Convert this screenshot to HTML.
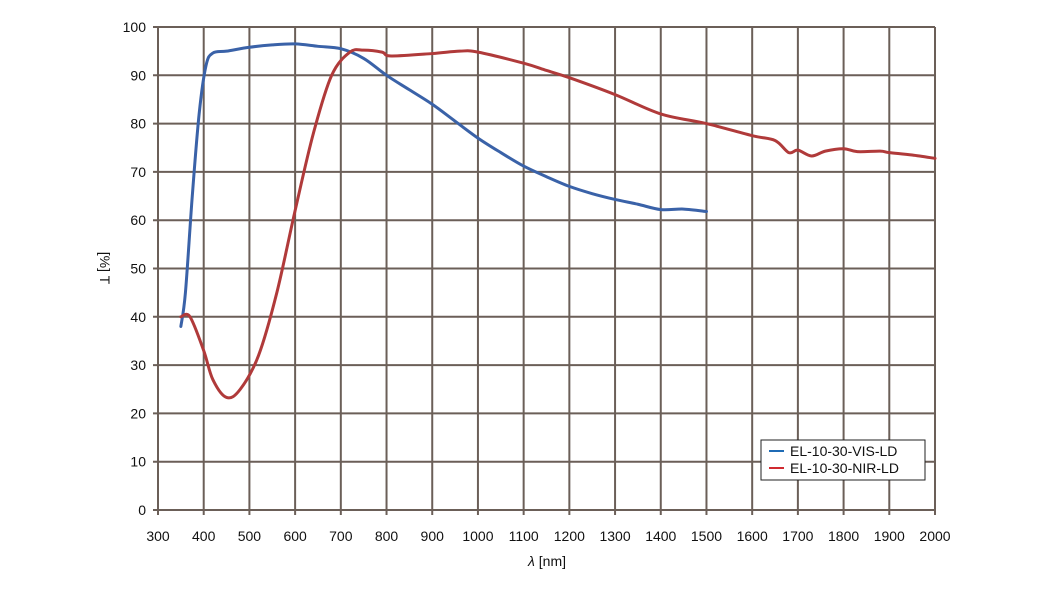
<!DOCTYPE html>
<html><head><style>
body{margin:0;background:#fff;}
svg{display:block;font-family:"Liberation Sans",sans-serif;}
</style></head><body>
<svg id="s" width="1040" height="593" xmlns="http://www.w3.org/2000/svg">
<g id="grid" stroke="#6b5f58" stroke-width="2"></g>
<g id="lab" font-size="14" fill="#111"></g>
<path id="b" fill="none" stroke="#3a62a8" stroke-width="3" stroke-linejoin="round" stroke-linecap="round"/>
<path id="r" fill="none" stroke="#b03a3a" stroke-width="3" stroke-linejoin="round" stroke-linecap="round"/>
<text x="100" y="268" font-size="14" fill="#111" transform="rotate(90 100 268)" text-anchor="middle">[%] T</text>
<text x="547" y="566" font-size="14" fill="#111" text-anchor="middle"><tspan font-style="italic">λ</tspan> [nm]</text>
<rect x="761" y="440" width="164" height="40" fill="#fff" stroke="#222" stroke-width="1"/>
<line x1="769" y1="451" x2="784" y2="451" stroke="#1f6bb5" stroke-width="2"/>
<line x1="769" y1="468" x2="784" y2="468" stroke="#d02a30" stroke-width="2"/>
<text x="790" y="456" font-size="14" fill="#111">EL-10-30-VIS-LD</text>
<text x="790" y="473" font-size="14" fill="#111">EL-10-30-NIR-LD</text>
</svg>
<script>
const X=n=>158+(n-300)*0.45706, Y=v=>510-v*4.83;
let g=document.getElementById('grid'),l=document.getElementById('lab'),h='',t='';
for(let n=300;n<=2000;n+=100){h+=`<line x1="${X(n)}" y1="27" x2="${X(n)}" y2="515"/>`;t+=`<text x="${X(n)}" y="541" text-anchor="middle">${n}</text>`;}
for(let v=0;v<=100;v+=10){h+=`<line x1="153" y1="${Y(v)}" x2="${X(2000)}" y2="${Y(v)}"/>`;t+=`<text x="146" y="${Y(v)+5}" text-anchor="end">${v}</text>`;}
g.innerHTML=h;l.innerHTML=t;
function sm(pts){const p=pts.map(q=>[X(q[0]),Y(q[1])]);let d=`M${p[0]}`;
for(let i=0;i<p.length-1;i++){const a=p[i-1]||p[i],b=p[i],c=p[i+1],e=p[i+2]||c;
const c1=[b[0]+(c[0]-a[0])/6,b[1]+(c[1]-a[1])/6],c2=[c[0]-(e[0]-b[0])/6,c[1]-(e[1]-b[1])/6];
d+=`C${c1} ${c2} ${c}`;}return d;}
const B=[[350,38],[360,45],[375,65],[390,82],[405,92],[420,94.6],[450,95],[500,95.8],[550,96.3],[600,96.5],[650,96],[700,95.5],[750,93.5],[800,90],[850,87],[900,84],[950,80.5],[1000,77],[1050,74],[1100,71.2],[1150,69],[1200,67],[1250,65.5],[1300,64.3],[1350,63.3],[1400,62.2],[1450,62.3],[1500,61.8]];
const R=[[350,40],[370,40],[400,33],[420,27],[450,23.3],[480,25],[520,32],[560,45],[600,62],[640,78],[680,90],[720,94.8],[750,95.2],[790,94.8],[810,94],[900,94.5],[960,95],[1000,94.8],[1100,92.5],[1150,91],[1200,89.5],[1300,86],[1400,82],[1500,80],[1600,77.5],[1650,76.5],[1680,74],[1700,74.5],[1730,73.3],[1760,74.3],[1800,74.8],[1830,74.2],[1880,74.3],[1900,74],[1950,73.5],[2000,72.8]];
document.getElementById('b').setAttribute('d',sm(B));
document.getElementById('r').setAttribute('d',sm(R));
</script>
</body></html>
